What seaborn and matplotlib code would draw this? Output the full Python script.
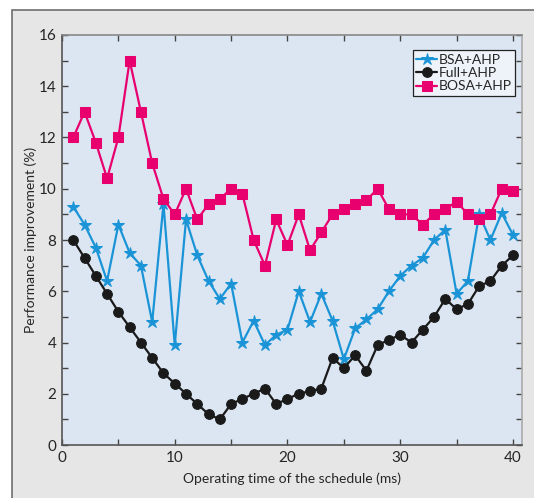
import numpy as np
import pandas as pd
import seaborn as sns
import matplotlib.pyplot as plt
from matplotlib.patches import Rectangle
from matplotlib.ticker import MultipleLocator

# operating time (ms) and improvement (%) for each scheme
times = list(range(1, 41))
bsa_ahp = [9.3, 8.6, 7.7, 6.4, 8.6, 7.5, 7.0, 4.8, 9.4, 3.9,
           8.8, 7.4, 6.4, 5.7, 6.3, 4.0, 4.85, 3.9, 4.3, 4.5,
           6.0, 4.8, 5.9, 4.85, 3.35, 4.55, 4.9, 5.3, 6.0, 6.6,
           7.0, 7.3, 8.0, 8.4, 5.9, 6.4, 9.0, 8.0, 9.05, 8.2]
full_ahp = [8.0, 7.3, 6.6, 5.9, 5.2, 4.6, 4.0, 3.4, 2.8, 2.4,
            2.0, 1.6, 1.2, 1.0, 1.6, 1.8, 2.0, 2.2, 1.6, 1.8,
            2.0, 2.1, 2.2, 3.4, 3.0, 3.5, 2.9, 3.9, 4.1, 4.3,
            4.0, 4.5, 5.0, 5.7, 5.3, 5.5, 6.2, 6.4, 7.0, 7.4]
bosa_ahp = [12.0, 13.0, 11.8, 10.4, 12.0, 15.0, 13.0, 11.0, 9.6, 9.0,
            10.0, 8.8, 9.4, 9.6, 10.0, 9.8, 8.0, 7.0, 8.8, 7.8,
            9.0, 7.6, 8.3, 9.0, 9.2, 9.4, 9.55, 10.0, 9.2, 9.0,
            9.0, 8.6, 9.0, 9.2, 9.5, 9.0, 8.8, 9.0, 10.0, 9.9]
series = ['BSA+AHP', 'Full+AHP', 'BOSA+AHP']

df = pd.DataFrame({
    'time': times * 3,
    'value': bsa_ahp + full_ahp + bosa_ahp,
    'scheme': [s for s in series for _ in times],
})

sns.set_style('ticks')
plt.rcParams['font.family'] = ['Lato', 'DejaVu Sans']

fig = plt.figure(figsize=(5.34, 4.98), dpi=100)
fig.patch.set_facecolor('white')
frame = Rectangle((12 / 534, -0.01), 1.0, 1 - 10 / 498 + 0.01,
                  transform=fig.transFigure, facecolor='#e6e6e6',
                  edgecolor='#6e6e6e', linewidth=1.2, zorder=-5)
fig.add_artist(frame)

ax = fig.add_axes([62 / 534, 1 - 445 / 498, (522 - 62) / 534, (445 - 35) / 498])
ax.set_zorder(2)
ax.set_facecolor('#dce6f3')

palette = {'BSA+AHP': '#1a94d6', 'Full+AHP': '#1a1a1a', 'BOSA+AHP': '#e8006f'}
markers = {'BSA+AHP': '*', 'Full+AHP': 'o', 'BOSA+AHP': 's'}
sizes = {'BSA+AHP': 9, 'Full+AHP': 7, 'BOSA+AHP': 7}

for name in series:
    sub = df[df.scheme == name]
    sns.lineplot(data=sub, x='time', y='value', ax=ax, color=palette[name],
                 marker=markers[name], markersize=sizes[name],
                 markeredgecolor=palette[name], linewidth=1.6, label=name)

ax.set_xlim(0, 40.8)
ax.set_ylim(0, 16)
ax.xaxis.set_major_locator(MultipleLocator(10))
ax.xaxis.set_minor_locator(MultipleLocator(5))
ax.yaxis.set_major_locator(MultipleLocator(2))
ax.yaxis.set_minor_locator(MultipleLocator(1))
ax.tick_params(which='both', direction='in', top=True, right=True,
               length=4, width=1, color='#444444', labelsize=11, pad=4)

for side in ax.spines:
    ax.spines[side].set_color('#555555')
    ax.spines[side].set_linewidth(1.2)
ax.spines['top'].set_color('#888888')
ax.spines['right'].set_color('#aaaaaa')

ax.set_xlabel('Operating time of the schedule (ms)', fontsize=10, labelpad=6)
ax.set_ylabel('Performance improvement (%)', fontsize=10, labelpad=1)

leg = ax.legend(loc='upper right', bbox_to_anchor=(0.985, 0.963), fontsize=10,
                frameon=True, fancybox=False, handlelength=1.5,
                handletextpad=0.1, borderpad=0.25, labelspacing=0.1,
                borderaxespad=0)
leg.get_frame().set_edgecolor('#222222')
leg.get_frame().set_linewidth(0.9)
leg.get_frame().set_facecolor('#eef3fa')
leg.get_frame().set_alpha(1)

fig.savefig('out.png', dpi=100)
